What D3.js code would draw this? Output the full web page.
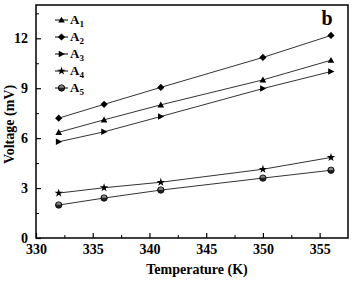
<!DOCTYPE html>
<html lang="en">
<head>
<meta charset="UTF-8">
<title>Voltage vs Temperature</title>
<style>
  body { margin: 0; background: #fff; }
  text { font-family: "Times New Roman", "Liberation Serif", "DejaVu Serif", serif; font-weight: bold; }
</style>
</head>
<body>
<div id="chart"></div>
<script src="https://d3js.org/d3.v7.min.js"></script>
<script>
const temps = [332, 336, 341, 350, 356];
const seriesNames = ["A1", "A2", "A3", "A4", "A5"];
const a1 = [6.35, 7.1, 8.0, 9.5, 10.68];
const a2 = [7.2, 8.03, 9.05, 10.85, 12.17];
const a3 = [5.78, 6.38, 7.3, 8.98, 10.0];
const a4 = [2.7, 3.02, 3.35, 4.13, 4.84];
const a5 = [1.98, 2.4, 2.88, 3.6, 4.07];
const xTicks = [330, 335, 340, 345, 350, 355];
const yTicks = [0, 3, 6, 9, 12];

const allSeries = [a1, a2, a3, a4, a5];
const symbols = ["triUp", "diamond", "triRight", "star", "circle"];

const margin = {top: 5, right: 6, bottom: 45, left: 36},
    width = 354 - margin.left - margin.right,
    height = 283 - margin.top - margin.bottom;

const svg = d3.select("#chart").append("svg")
    .attr("width", 354)
    .attr("height", 283);

const g = svg.append("g")
    .attr("transform", `translate(${margin.left},${margin.top})`);

const x = d3.scaleLinear().domain([330, 357.5]).range([0, width]);
const y = d3.scaleLinear().domain([0, 14]).range([height, 0]);

// frame
g.append("rect")
    .attr("width", width).attr("height", height)
    .attr("fill", "none").attr("stroke", "#000").attr("stroke-width", 1.5);

// axes with inward ticks
const xAxis = g.append("g")
    .attr("transform", `translate(0,${height})`)
    .call(d3.axisBottom(x).tickValues(xTicks).tickSizeInner(-5).tickSizeOuter(0).tickPadding(6));
const yAxis = g.append("g")
    .call(d3.axisLeft(y).tickValues(yTicks).tickSizeInner(-5).tickSizeOuter(0).tickPadding(8));
[xAxis, yAxis].forEach(a => {
  a.attr("font-family", null);
  a.select(".domain").remove();
  a.selectAll("line").attr("stroke-width", 1.2);
  a.selectAll("text").attr("font-size", 14).attr("fill", "#000");
});

// minor ticks
g.append("g").attr("transform", `translate(0,${height})`)
    .call(d3.axisBottom(x).tickValues(d3.range(332.5, 357, 5)).tickSize(-3).tickFormat(""))
    .call(a => a.select(".domain").remove());
g.append("g")
    .call(d3.axisLeft(y).tickValues(d3.range(1.5, 14, 3)).tickSize(-3).tickFormat(""))
    .call(a => a.select(".domain").remove());

// axis titles
svg.append("text")
    .attr("x", margin.left + width / 2 + 5)
    .attr("y", 274)
    .attr("text-anchor", "middle")
    .attr("font-size", 14)
    .text("Temperature (K)");
svg.append("text")
    .attr("transform", `translate(14,${margin.top + height / 2 + 3}) rotate(-90)`)
    .attr("text-anchor", "middle")
    .attr("font-size", 14)
    .text("Voltage (mV)");

svg.append("text")
    .attr("x", 327).attr("y", 25)
    .attr("text-anchor", "middle")
    .attr("font-size", 20)
    .text("b");

function drawSymbol(sel, type, cx, cy) {
  const s = sel.append("g").attr("transform", `translate(${cx},${cy})`);
  if (type === "triUp") {
    s.append("path").attr("d", "M0,-3.3L3.3,2.6L-3.3,2.6Z").attr("fill", "#000");
  } else if (type === "diamond") {
    s.append("path").attr("d", "M0,-3.6L3.6,0L0,3.6L-3.6,0Z").attr("fill", "#000");
  } else if (type === "triRight") {
    s.append("path").attr("d", "M3.5,0L-2.8,-3.3L-2.8,3.3Z").attr("fill", "#000");
  } else if (type === "star") {
    s.append("path").attr("d", d3.symbol().type(d3.symbolStar).size(22)()).attr("fill", "#000");
  } else {
    s.append("circle").attr("r", 3.2).attr("fill", "#222").attr("stroke", "#000").attr("stroke-width", 0.8);
    s.append("path").attr("d", "M-2.4,-0.3A2.4,2.4 0 0,1 2.4,-0.3Z").attr("fill", "#888");
  }
}

const line = d3.line().x((d, i) => x(temps[i])).y(d => y(d));

allSeries.forEach((vals, k) => {
  g.append("path")
      .datum(vals)
      .attr("d", line)
      .attr("fill", "none")
      .attr("stroke", "#333")
      .attr("stroke-width", 1);
  vals.forEach((v, i) => drawSymbol(g, symbols[k], x(temps[i]), y(v)));
});

// legend
const legend = svg.append("g").attr("transform", "translate(55,20)");
seriesNames.forEach((name, k) => {
  const ly = k * 17;
  legend.append("line")
      .attr("x1", 0).attr("x2", 13).attr("y1", ly).attr("y2", ly)
      .attr("stroke", "#000").attr("stroke-width", 1);
  drawSymbol(legend, symbols[k], 6.5, ly);
  const t = legend.append("text")
      .attr("x", 15).attr("y", ly + 4)
      .attr("font-size", 13);
  t.append("tspan").text(name[0]);
  t.append("tspan").attr("font-size", 9).attr("dy", 3).text(name.slice(1));
});
</script>
</body>
</html>
